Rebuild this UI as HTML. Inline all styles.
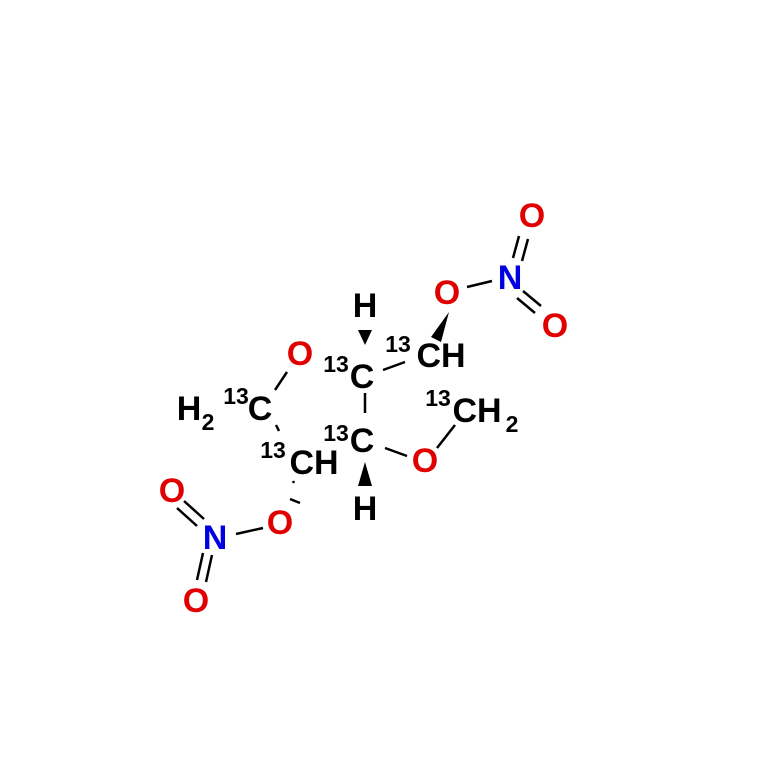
<!DOCTYPE html>
<html><head><style>html,body{margin:0;padding:0;background:#fff}svg{display:block}</style></head><body>
<svg width="762" height="781" viewBox="0 0 762 781" xmlns="http://www.w3.org/2000/svg" font-family="Liberation Sans, sans-serif" font-weight="bold">
<g stroke="#000" stroke-width="2.5" fill="none">
<line x1="467" y1="287" x2="492" y2="281"/>
<line x1="513" y1="258" x2="519" y2="236"/><line x1="522" y1="261" x2="528" y2="239"/>
<line x1="523" y1="291" x2="541" y2="306"/><line x1="517" y1="298" x2="535" y2="313"/>
<line x1="383" y1="370" x2="405" y2="362"/>
<line x1="365" y1="393" x2="365" y2="413"/>
<line x1="385" y1="448" x2="407" y2="456"/>
<line x1="437" y1="448" x2="455" y2="425"/>
<line x1="287" y1="372" x2="275" y2="390"/>
<line x1="276" y1="425" x2="279" y2="431"/>
<line x1="263" y1="528" x2="236" y2="534"/>
<line x1="204" y1="519" x2="184" y2="501"/><line x1="197" y1="526" x2="177" y2="508"/>
<line x1="212" y1="555" x2="206" y2="582"/><line x1="203" y1="553" x2="197" y2="580"/>
<line x1="293" y1="481" x2="294" y2="483"/>
<line x1="290" y1="499" x2="300" y2="503"/>
</g>
<g fill="#000">
<polygon points="358,330 372,330 365,345"/>
<polygon points="358,486 372,486 365,462"/>
<polygon points="431,337 441,342 449,312"/>
</g>
<g font-size="34" text-anchor="middle" fill="#000">
<text x="365" y="317">H</text>
<text x="365" y="520">H</text>
<text x="362" y="388">C</text>
<text x="362" y="452">C</text>
<text x="441" y="367">CH</text>
<text x="477" y="422">CH</text>
<text x="314" y="474">CH</text>
<text x="260" y="420">C</text>
<text x="189" y="420">H</text>
</g>
<g font-size="23" text-anchor="middle" fill="#000">
<text x="336" y="372">13</text>
<text x="336" y="441">13</text>
<text x="398" y="352">13</text>
<text x="438" y="406">13</text>
<text x="273" y="458">13</text>
<text x="236" y="404">13</text>
<text x="208" y="430">2</text>
<text x="512" y="432">2</text>
</g>
<g font-size="34" text-anchor="middle" fill="#e00000">
<text x="447" y="304">O</text>
<text x="532" y="227">O</text>
<text x="555" y="337">O</text>
<text x="300" y="365">O</text>
<text x="425" y="472">O</text>
<text x="280" y="534">O</text>
<text x="172" y="502">O</text>
<text x="196" y="612">O</text>
</g>
<g font-size="34" text-anchor="middle" fill="#0000e0">
<text x="510" y="289">N</text>
<text x="215" y="549">N</text>
</g>
</svg>
</body></html>
